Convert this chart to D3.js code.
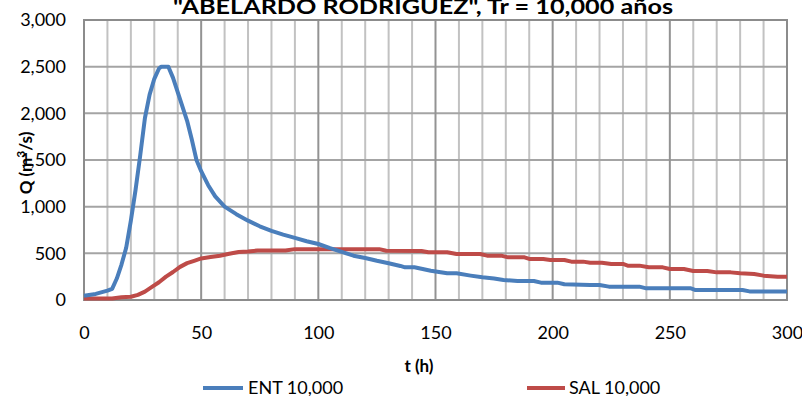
<!DOCTYPE html>
<html>
<head>
<meta charset="utf-8">
<script src="https://cdn.jsdelivr.net/npm/d3@7"></script>
<style>
  html, body { margin: 0; padding: 0; background: #fff; }
  svg { display: block; font-family: Lato, "Open Sans", sans-serif; }
</style>
</head>
<body>
<svg id="chart" width="802" height="396"></svg>
<script>
// Inflow hydrograph (ENT) and routed outflow (SAL), Tr = 10,000 años
const entTime = [0, 5, 10, 12, 14, 16, 18, 20, 22, 24, 26, 28, 30, 32, 33, 36, 38, 41, 44, 46, 48, 50, 53, 56, 60, 65, 70, 75, 80, 85, 90, 95, 100, 105, 110, 115, 120, 125, 130, 135, 137, 141, 148, 155, 159, 165, 170, 175, 179, 185, 192, 195, 202, 205, 216, 220, 224, 237, 240, 259, 261, 281, 284, 300];
const entFlow = [45, 65, 100, 120, 230, 380, 560, 850, 1180, 1550, 1950, 2200, 2370, 2480, 2500, 2500, 2380, 2150, 1920, 1720, 1500, 1380, 1230, 1110, 1000, 920, 850, 790, 740, 700, 665, 630, 600, 555, 515, 475, 450, 420, 393, 365, 350, 350, 314, 286, 286, 261, 243, 230, 214, 204, 204, 186, 186, 168, 161, 161, 143, 143, 125, 125, 107, 107, 92, 92];

const salTime = [0, 12, 16, 20, 23, 26, 29, 32, 35, 38, 41, 44, 47, 50, 54, 58, 62, 66, 70, 74, 86, 90, 126, 129, 144, 147, 155, 159, 169, 172, 178, 181, 188, 190, 196, 199, 205, 208, 213, 216, 221, 225, 230, 232, 237, 241, 247, 250, 256, 260, 266, 270, 276, 280, 286, 290, 296, 300];
const salFlow = [15, 15, 30, 35, 55, 90, 140, 190, 250, 300, 355, 395, 420, 445, 460, 475, 495, 515, 520, 530, 530, 545, 545, 528, 525, 511, 511, 493, 493, 475, 475, 457, 457, 440, 440, 429, 429, 411, 411, 400, 400, 386, 386, 368, 368, 350, 350, 332, 332, 311, 311, 296, 296, 286, 279, 261, 250, 250];

const xTicks = [0, 50, 100, 150, 200, 250, 300];
const yTicks = [0, 500, 1000, 1500, 2000, 2500, 3000];
const seriesNames = ["ENT 10,000", "SAL 10,000"];
const chartTitle = "\"ABELARDO RODRIGUEZ\", Tr = 10,000 años";

const colors = ["#4a7ebb", "#be4b48"];

const svg = d3.select("#chart");
const plot = { left: 84, right: 787, top: 20, bottom: 300 };

const x = d3.scaleLinear().domain([0, 300]).range([plot.left, plot.right]);
const y = d3.scaleLinear().domain([0, 3000]).range([plot.bottom, plot.top]);

// Gridlines: minor verticals every 10 h, major every 50 h, horizontals every 500
const grid = svg.append("g");
grid.append("g").selectAll("line")
  .data(d3.range(10, 300, 10).filter(v => v % 50 !== 0))
  .join("line")
  .attr("x1", d => x(d)).attr("x2", d => x(d))
  .attr("y1", plot.top).attr("y2", plot.bottom)
  .attr("stroke", "#c2c2c2").attr("stroke-width", 2);
grid.append("g").selectAll("line")
  .data(yTicks.slice(1, -1))
  .join("line")
  .attr("x1", plot.left).attr("x2", plot.right)
  .attr("y1", d => y(d)).attr("y2", d => y(d))
  .attr("stroke", "#a4a4a4").attr("stroke-width", 2);
grid.append("g").selectAll("line")
  .data(xTicks.slice(1, -1))
  .join("line")
  .attr("x1", d => x(d)).attr("x2", d => x(d))
  .attr("y1", plot.top).attr("y2", plot.bottom)
  .attr("stroke", "#939393").attr("stroke-width", 2);

// Plot frame
svg.append("rect")
  .attr("x", plot.left).attr("y", plot.top)
  .attr("width", plot.right - plot.left).attr("height", plot.bottom - plot.top)
  .attr("fill", "none").attr("stroke", "#8c8c8c").attr("stroke-width", 2);

// Axes (labels only)
const yAxis = svg.append("g")
  .attr("transform", `translate(${plot.left},0)`)
  .call(d3.axisLeft(y).tickValues(yTicks).tickFormat(d3.format(",")).tickSize(0).tickPadding(18));
const xAxis = svg.append("g")
  .attr("transform", `translate(0,${plot.bottom})`)
  .call(d3.axisBottom(x).tickValues(xTicks).tickSize(0).tickPadding(26));
[yAxis, xAxis].forEach(a => {
  a.select(".domain").remove();
  a.selectAll("text").attr("font-family", "Lato, sans-serif").attr("font-size", 18).attr("fill", "#000");
});

// Series lines (outflow first, inflow drawn on top)
const line = d3.line().x(d => x(d[0])).y(d => y(d[1]));
const series = [
  { data: d3.zip(salTime, salFlow), color: colors[1] },
  { data: d3.zip(entTime, entFlow), color: colors[0] }
];
svg.append("g").selectAll("path")
  .data(series)
  .join("path")
  .attr("d", d => line(d.data))
  .attr("fill", "none")
  .attr("stroke", d => d.color)
  .attr("stroke-width", 4)
  .attr("stroke-linejoin", "round");

// Title
svg.append("text")
  .attr("x", 423).attr("y", 14)
  .attr("text-anchor", "middle")
  .attr("font-size", 21).attr("font-weight", "bold")
  .attr("textLength", 500).attr("lengthAdjust", "spacingAndGlyphs")
  .text(chartTitle);

// Axis titles
svg.append("text")
  .attr("x", 419).attr("y", 372)
  .attr("text-anchor", "middle")
  .attr("font-size", 17).attr("font-weight", "bold")
  .text("t (h)");

const yt = svg.append("text")
  .attr("transform", "translate(32,163) rotate(-90)")
  .attr("text-anchor", "middle")
  .attr("font-size", 17).attr("font-weight", "bold");
yt.append("tspan").text("Q (m");
yt.append("tspan").attr("baseline-shift", "super").attr("font-size", 12).text("3");
yt.append("tspan").text("/s)");

// Legend
const legendX = [[203, 243, 248], [527, 565, 569]];
const legend = svg.append("g").selectAll("g")
  .data(seriesNames)
  .join("g");
legend.append("line")
  .attr("x1", (d, i) => legendX[i][0]).attr("x2", (d, i) => legendX[i][1])
  .attr("y1", 388).attr("y2", 388)
  .attr("stroke", (d, i) => colors[i]).attr("stroke-width", 4);
legend.append("text")
  .attr("x", (d, i) => legendX[i][2]).attr("y", 394)
  .attr("font-size", 18)
  .text(d => d);
</script>
</body>
</html>
